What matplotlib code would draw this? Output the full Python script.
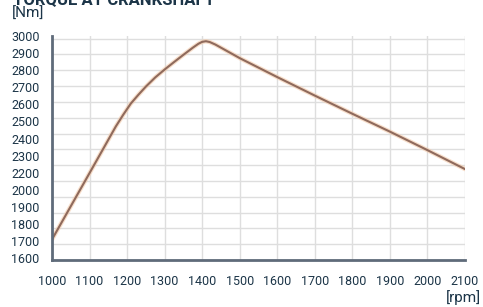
import matplotlib
matplotlib.use("Agg")
import matplotlib.pyplot as plt
import numpy as np

# datos
rpm = [1000, 1100, 1170, 1190, 1210, 1230, 1250, 1275, 1300, 1325, 1350, 1375,
       1390, 1400, 1410, 1420, 1435, 1460, 1500, 1600, 1700, 1800, 1900, 2000, 2100]
torque = [1730, 2150, 2445, 2520, 2590, 2645, 2697, 2755, 2805, 2852, 2898, 2943,
          2968, 2980, 2984, 2979, 2963, 2930, 2877, 2757, 2640, 2525, 2412, 2295, 2175]

xticks = [1000, 1100, 1200, 1300, 1400, 1500, 1600, 1700, 1800, 1900, 2000, 2100]
ylabels = ["1600", "1700", "1800", "1900", "2000", "2200", "2300",
           "2400", "2500", "2600", "2700", "2800", "2900", "3000"]

txt_color = "#1c3548"
plt.rcParams["font.family"] = ["Roboto", "DejaVu Sans"]

fig = plt.figure(figsize=(4.83, 3.07), dpi=100)
ax = fig.add_axes([52/483, 1 - 260/307, 413/483, 224/307])

ax.plot(rpm, torque, color="#f3c9a8", linewidth=3.2, alpha=0.6,
        solid_capstyle="round", solid_joinstyle="round")
ax.plot(rpm, torque, color="#8f6a5c", linewidth=1.5,
        solid_capstyle="round", solid_joinstyle="round")

ax.set_xlim(1000, 2100)
ax.set_ylim(1600, 3000)

# cuadricula cada 100
ax.set_xticks(xticks)
ax.set_yticks(np.arange(1600, 3001, 100), minor=True)
ax.grid(which="minor", axis="y", color="#dedede", linewidth=1)
ax.grid(which="major", axis="x", color="#dedede", linewidth=1)
ax.set_axisbelow(True)

# etiquetas y (como en el original, sin 2100)
ax.set_yticks(np.linspace(1611, 3017, len(ylabels)))
ax.set_yticklabels(ylabels)
ax.tick_params(axis="both", which="both", length=0, labelsize=9, colors=txt_color)
ax.tick_params(axis="y", pad=9)
ax.tick_params(axis="x", pad=11)

for s in ["top", "right"]:
    ax.spines[s].set_visible(False)
for s in ["left", "bottom"]:
    ax.spines[s].set_color("#5f6b7a")
    ax.spines[s].set_linewidth(2)

fig.text(13/483, 1 - 4/307, "TORQUE AT CRANKSHAFT", fontsize=12, fontweight="bold",
         color=txt_color, va="baseline", ha="left")
fig.text(12/483, 1 - 7/307, "[Nm]", fontsize=11, color=txt_color, va="top", ha="left")
fig.text(481/483, 1 - 305/307, "[rpm]", fontsize=11, color=txt_color, va="bottom", ha="right")

fig.savefig("out.png", dpi=100)
